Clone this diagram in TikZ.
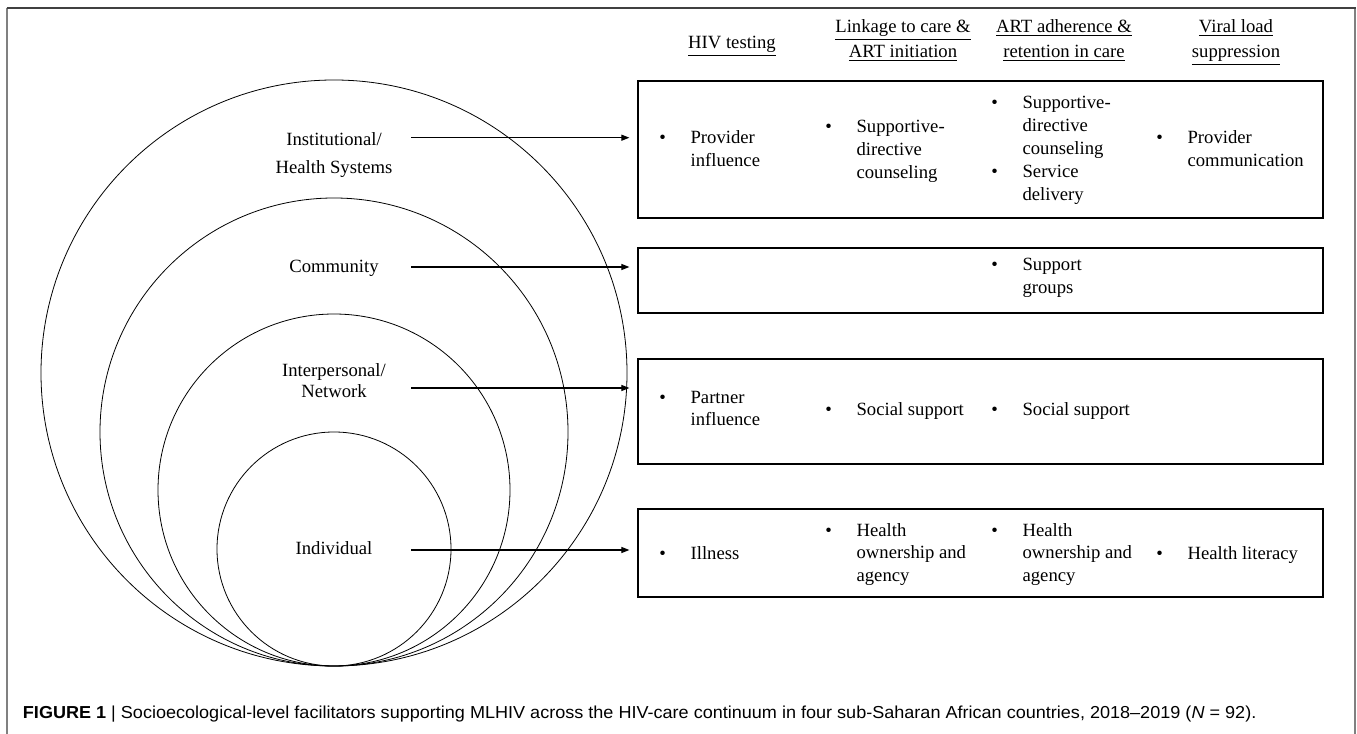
\documentclass[tikz,border=0pt]{standalone}
\usepackage{fontspec}
\setmainfont{Liberation Serif}
\newfontfamily\capfont[Ligatures=TeX]{Liberation Sans}
\usetikzlibrary{arrows.meta}
\newcommand\itm[1]{\makebox[23.5pt][l]{\textbullet}\begin{tabular}[t]{@{}l@{}}#1\end{tabular}}
\newcommand\hdr[1]{\begin{tabular}[t]{@{}c@{}}#1\end{tabular}}
\newsavebox\capbox
\tikzset{
  lbl/.style={font=\fontsize{14}{17}\selectfont, inner sep=0pt, anchor=base},
  head/.style={font=\fontsize{14}{18.75}\selectfont, inner sep=0pt, anchor=base},
  cell/.style={font=\fontsize{14}{17}\selectfont, inner sep=0pt, anchor=base west},
  panel/.style={draw, line width=0.9pt, minimum width=513.75pt, inner sep=0pt},
  ring/.style={line width=0.6pt},
  arr/.style={-{Triangle[length=6pt,width=4.5pt]}, line width=0.8pt, shorten >=6pt}
}
\begin{document}
\sbox\capbox{\capfont\fontsize{13}{15}\selectfont\textbf{FIGURE 1} | Socioecological-level facilitators supporting MLHIV across the HIV-care continuum in four sub-Saharan African countries, 2018\textendash 2019 (\textit{N} = 92).}%
\pgfmathsetmacro\capsx{925/\wd\capbox}%
\begin{tikzpicture}[x=0.75pt,y=-0.75pt]
\useasboundingbox (0,0) rectangle (1357,734);
% frame
\draw[gray, line width=1.4pt] (7.3,734)--(7.3,8.3) (1355,8.3)--(1355,734);
\draw[black!75, line width=1.4pt] (6.5,8.3)--(1355.8,8.3);
% nested levels, all touching at the bottom
\draw[ring] (334,373) circle[radius=219.75pt];
\draw[ring] (334,432) circle[radius=175.5pt];
\draw[ring] (334,490) circle[radius=132pt];
\draw[ring] (334,549) circle[radius=87.75pt];
\node[lbl] (inst) at (334,145.7) {\hdr{Institutional/\\[3.5pt]Health Systems}};
\node[lbl] (comm) at (334,273) {Community};
\node[lbl, font=\fontsize{14}{15.5}\selectfont] (inter) at (334,376.5) {\hdr{Interpersonal/\\Network}};
\node[lbl] (indiv) at (334,554) {Individual};
% column headings
\node[head] (hTest) at (732,49) {\underline{HIV testing}};
\node[head] (hLink) at (903,33) {\hdr{\underline{Linkage to care \&}\\\underline{ART initiation}}};
\node[head] (hAdh) at (1064,33) {\hdr{\underline{ART adherence \&}\\\underline{retention in care}}};
\node[head] (hVl) at (1236,33) {\hdr{\underline{Viral load}\\\underline{suppression}}};
% boxes
\node[panel, minimum height=102.75pt] (bInst) at (980.5,149.5) {};
\node[panel, minimum height=48.75pt] (bComm) at (980.5,280.5) {};
\node[panel, minimum height=78.75pt] (bInter) at (980.5,411.5) {};
\node[panel, minimum height=66pt] (bIndiv) at (980.5,553) {};
% arrows
\coordinate (aInst) at (411,137.7);
\coordinate (aComm) at (411,267);
\coordinate (aInter) at (411,388);
\coordinate (aIndiv) at (411,550);
\draw[arr] (aInst) -- (aInst -| bInst.west);
\draw[arr] (aComm) -- (aComm -| bComm.west);
\draw[arr] (aInter) -- (aInter -| bInter.west);
\draw[arr] (aIndiv) -- (aIndiv -| bIndiv.west);
% box contents
\node[cell] (c11) at (659,144) {\itm{Provider\\influence}};
\node[cell] (c12) at (825,133) {\itm{Supportive-\\directive\\counseling}};
\node[cell] (c13) at (991,109) {\itm{Supportive-\\directive\\counseling}};
\node[cell] (c13b) at (991,177.5) {\itm{Service\\delivery}};
\node[cell] (c14) at (1156,144) {\itm{Provider\\communication}};
\node[cell] (c23) at (991,270.7) {\itm{Support\\groups}};
\node[cell] (c31) at (659,403) {\itm{Partner\\influence}};
\node[cell] (c32) at (825,415) {\itm{Social support}};
\node[cell] (c33) at (991,415) {\itm{Social support}};
\node[cell] (c41) at (659,559) {\itm{Illness}};
\node[cell] (c42) at (825,536) {\itm{Health\\ownership and\\agency}};
\node[cell] (c43) at (991,536) {\itm{Health\\ownership and\\agency}};
\node[cell] (c44) at (1156,559) {\itm{Health literacy}};
% caption
\node[anchor=base west, inner sep=0pt] (cap) at (22.7,718) {\scalebox{\capsx}[1]{\usebox\capbox}};
\end{tikzpicture}
\end{document}
